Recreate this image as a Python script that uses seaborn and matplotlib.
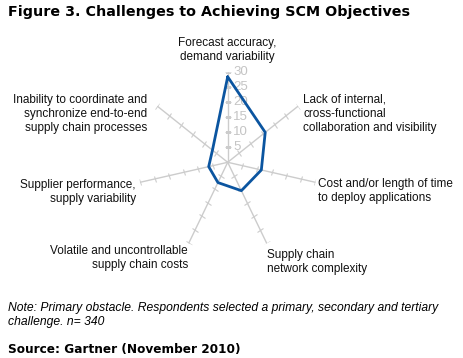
import numpy as np
import pandas as pd
import matplotlib
matplotlib.use("Agg")
import matplotlib.pyplot as plt
from matplotlib.markers import MarkerStyle
from matplotlib.transforms import Affine2D
import seaborn as sns

# data
categories = [
    "Forecast accuracy,\ndemand variability",
    "Lack of internal,\ncross-functional\ncollaboration and visibility",
    "Cost and/or length of time\nto deploy applications",
    "Supply chain\nnetwork complexity",
    "Volatile and uncontrollable\nsupply chain costs",
    "Supplier performance,\nsupply variability",
    "Inability to coordinate and\nsynchronize end-to-end\nsupply chain processes",
]
values = [28.5, 16, 11.5, 10.5, 7.5, 6.5, 6.5]
r_ticks = [5, 10, 15, 20, 25, 30]
r_max = 30

# label placement (figure pixels, bottom of text) and alignment
label_pos = [(227, 63, "center"), (303, 134, "left"), (318, 204, "left"),
             (267, 275, "left"), (188, 271, "right"), (136, 205, "right"),
             (147, 134, "right")]

sns.set_style("white")
plt.rcParams["font.family"] = ["Liberation Sans", "DejaVu Sans"]
plt.rcParams["text.color"] = "black"

W, H = 464, 358
fig = plt.figure(figsize=(W / 100, H / 100), dpi=100)

cx, cy, rad = 227.7, 162.3, 90
ax = fig.add_axes([(cx - rad) / W, 1 - (cy + rad) / H, 2 * rad / W, 2 * rad / H],
                  projection="polar")
ax.set_theta_offset(np.pi / 2)
ax.set_theta_direction(-1)
ax.set_ylim(0, r_max)
ax.grid(False)
ax.spines["polar"].set_visible(False)
ax.set_xticks([])
ax.set_yticks([])
ax.patch.set_alpha(0)

angles = np.arange(len(categories)) * 2 * np.pi / len(categories)

# spokes with small cross ticks
for a in angles:
    ax.plot([a, a], [0, r_max], color="#cccccc", lw=1, zorder=1)
    deg = 90 - np.degrees(a)
    mk = MarkerStyle("|", transform=Affine2D().rotate_deg(deg))
    ax.plot([a] * len(r_ticks), r_ticks, ls="none", marker=mk, ms=5,
            mew=0.8, color="#cccccc", zorder=1)

for t in r_ticks:
    ax.annotate(str(t), (0, t), xytext=(4, 0), textcoords="offset points",
                color="#c4c4c4", fontsize=9.5, ha="left", va="center", zorder=2)

# close the polygon at 2*pi so seaborn does not merge the duplicate angle
df = pd.DataFrame({"angle": np.append(angles, 2 * np.pi),
                   "value": values + values[:1]})
sns.lineplot(data=df, x="angle", y="value", sort=False, estimator=None, ax=ax,
             color="#0b55a0", lw=2, zorder=3)
ax.set_xlabel("")
ax.set_ylabel("")

for name, (x, y, ha) in zip(categories, label_pos):
    fig.text(x / W, 1 - y / H, name, ha=ha, va="bottom", fontsize=8.5,
             linespacing=1.25, multialignment=ha, color="#111111")

fig.text(8 / W, 1 - 12 / H, "Figure 3. Challenges to Achieving SCM Objectives",
         fontsize=10.3, fontweight="bold", family="DejaVu Sans", va="center")
fig.text(8 / W, 1 - 302 / H,
         "Note: Primary obstacle. Respondents selected a primary, secondary and tertiary\nchallenge. n= 340",
         fontsize=8.7, style="italic", va="top", linespacing=1.2)
fig.text(8 / W, 1 - 349 / H, "Source: Gartner (November 2010)", fontsize=8.7,
         fontweight="bold", family="DejaVu Sans", va="center")

fig.savefig("out.png", dpi=100)
